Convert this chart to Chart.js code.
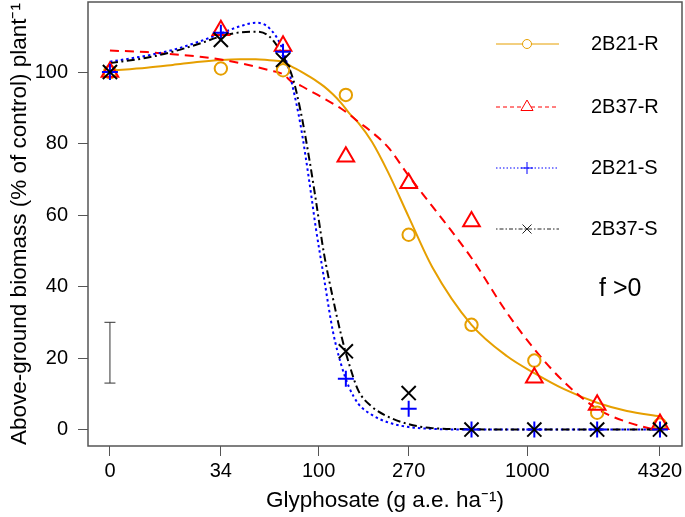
<!DOCTYPE html>
<html>
<head>
<meta charset="utf-8">
<script src="https://cdn.jsdelivr.net/npm/chart.js@4"></script>
<style>
  html, body { margin: 0; padding: 0; background: #fff; }
  #wrap { width: 685px; height: 517px; position: relative; }
</style>
</head>
<body>
<div id="wrap"><canvas id="chart"></canvas></div>
<script>
// Data (control "0" is plotted at dose 10 on the log axis)
const pointDoses = [10, 34, 67.5, 135, 270, 540, 1080, 2160, 4320];
const obsR21 = [100, 101, 100.5, 93.6, 54.5, 29.3, 19.3, 4.7, 1.4];
const obsR37 = [100, 111.7, 107.3, 76.3, 68.9, 58.2, 14.5, 6.9, 1.5];
const obsS21 = [100, 111, 105.7, 14.2, 5.8, 0, 0, 0, 0];
const obsS37 = [100, 109, 103.4, 21.9, 10.2, 0, 0, 0, 0];

// fitted curves
const curveDoses = [10, 15, 20, 27, 34, 42, 50, 58, 67.5, 75, 82, 90, 97, 106, 117, 128, 140, 155, 180, 215, 270, 350, 540, 800, 1080, 1500, 2160, 3000, 4320];
const fitR21 = [100.4, 101.2, 102, 102.9, 103.4, 103.6, 103.6, 103.3, 102.9, 101.4, 100.2, 98.8, 97.6, 96, 93.8, 91.4, 88.5, 85.8, 80.5, 72, 59.5, 45.5, 29.3, 20.5, 15.8, 11.3, 7.5, 5.2, 3.7];
const fitR37 = [106, 105.6, 105, 104.3, 103.5, 102.5, 101.5, 100.5, 99.4, 97.1, 96.2, 94.9, 93.9, 92.6, 91.2, 89.8, 88.2, 86.1, 83.2, 79, 71, 62.5, 48, 32.6, 22.5, 13.3, 5.8, 2.1, -0.4];
const fitS21 = [102.9, 104.6, 106.2, 108.6, 110.8, 112.8, 113.8, 112.3, 106, 96, 85, 69.8, 56.3, 42.5, 27.5, 18.3, 11.8, 7.2, 4.1, 2, 0.7, 0.2, 0, 0, 0, 0, 0, 0, 0];
const fitS37 = [102.5, 104, 105.7, 108, 110, 111.1, 111.3, 110, 104.5, 98.5, 89, 76, 64.1, 49.3, 36.8, 26.6, 18.3, 10.9, 6.4, 3.6, 1.5, 0.4, 0.1, 0, 0, 0, 0, 0, 0];

const seriesNames = ['2B21-R', '2B37-R', '2B21-S', '2B37-S'];
const xTickValues = [10, 34, 100, 270, 1000, 4320];
const xTickLabels = ['0', '34', '100', '270', '1000', '4320'];
const yTickValues = [0, 20, 40, 60, 80, 100];
const errBarDose = 10;
const errBarRange = [13, 30];
const noteText = 'f >0';

const ORANGE = '#E69F00';
const RED = '#FF0000';
const BLUE = '#0000FF';
const BLACK = '#000000';
const FONT = "'Liberation Sans', Arial, sans-serif";

Chart.defaults.color = '#000';
Chart.defaults.font.family = FONT;

const pts = ys => pointDoses.map((d, i) => ({x: d, y: ys[i]}));
const curve = ys => curveDoses.map((d, i) => ({x: d, y: ys[i]}));

function pointSet(label, ys, color, style, r) {
    return {
        label, data: pts(ys), showLine: false,
        pointStyle: style, pointRadius: r, pointHoverRadius: r,
        pointBorderColor: color, pointBackgroundColor: 'rgba(0,0,0,0)',
        pointBorderWidth: 2, borderColor: color
    };
}
function fitSet(label, ys, color, dash) {
    return {
        label, data: curve(ys), borderColor: color, borderWidth: 2,
        borderDash: dash, pointRadius: 0, cubicInterpolationMode: 'monotone',
        fill: false
    };
}

// box around plot, error bar, legend and note
const extras = {
    id: 'extras',
    afterDraw(chart) {
        const {ctx, chartArea: a, scales: {x, y}} = chart;
        ctx.save();
        ctx.strokeStyle = '#555';
        ctx.lineWidth = 1.5;
        ctx.strokeRect(a.left, a.top, a.right - a.left, a.bottom - a.top);

        // error bar
        const ex = x.getPixelForValue(errBarDose);
        const e0 = y.getPixelForValue(errBarRange[0]);
        const e1 = y.getPixelForValue(errBarRange[1]);
        ctx.strokeStyle = '#333';
        ctx.lineWidth = 1;
        ctx.beginPath();
        ctx.moveTo(ex, e0); ctx.lineTo(ex, e1);
        ctx.moveTo(ex - 5.5, e0); ctx.lineTo(ex + 5.5, e0);
        ctx.moveTo(ex - 5.5, e1); ctx.lineTo(ex + 5.5, e1);
        ctx.stroke();

        // legend
        const colors = [ORANGE, RED, BLUE, '#222'];
        const dashes = [[], [4, 3], [1.5, 2], [1.5, 2, 4, 2]];
        const lx0 = 496, lx1 = 559, mx = 527, tx = 591;
        const ly = [44, 107, 168, 229];
        ctx.font = '20px ' + FONT;
        ctx.textBaseline = 'middle';
        ctx.textAlign = 'left';
        seriesNames.forEach((name, i) => {
            const yy = ly[i];
            ctx.strokeStyle = colors[i];
            ctx.lineWidth = 1;
            ctx.setLineDash(dashes[i]);
            ctx.beginPath();
            ctx.moveTo(lx0, yy); ctx.lineTo(lx1, yy);
            ctx.stroke();
            ctx.setLineDash([]);
            ctx.beginPath();
            if (i === 0) {
                ctx.fillStyle = '#fff';
                ctx.arc(mx, yy, 4.5, 0, Math.PI * 2);
                ctx.fill();
            } else if (i === 1) {
                const r = 7;
                ctx.moveTo(mx, yy - r);
                ctx.lineTo(mx + r * 0.866, yy + r / 2);
                ctx.lineTo(mx - r * 0.866, yy + r / 2);
                ctx.closePath();
                ctx.fillStyle = '#fff';
                ctx.fill();
            } else if (i === 2) {
                ctx.moveTo(mx - 6, yy); ctx.lineTo(mx + 6, yy);
                ctx.moveTo(mx, yy - 6); ctx.lineTo(mx, yy + 6);
            } else {
                ctx.moveTo(mx - 4.5, yy - 4.5); ctx.lineTo(mx + 4.5, yy + 4.5);
                ctx.moveTo(mx - 4.5, yy + 4.5); ctx.lineTo(mx + 4.5, yy - 4.5);
            }
            ctx.stroke();
            ctx.fillStyle = '#000';
            ctx.fillText(name, tx, yy);
        });

        ctx.font = '25px ' + FONT;
        ctx.textBaseline = 'alphabetic';
        ctx.fillText(noteText, 599, 296);
        ctx.restore();
    }
};

new Chart(document.getElementById('chart'), {
    type: 'line',
    data: {
        datasets: [
            pointSet(seriesNames[3], obsS37, BLACK, 'crossRot', 10),
            pointSet(seriesNames[2], obsS21, BLUE, 'cross', 8),
            pointSet(seriesNames[1], obsR37, RED, 'triangle', 9.6),
            pointSet(seriesNames[0], obsR21, ORANGE, 'circle', 6.2),
            fitSet(seriesNames[3], fitS37, BLACK, [8, 3.5, 2, 3.5]),
            fitSet(seriesNames[2], fitS21, BLUE, [2.5, 3]),
            fitSet(seriesNames[1], fitR37, RED, [9, 6]),
            fitSet(seriesNames[0], fitR21, ORANGE, [])
        ]
    },
    options: {
        responsive: true,
        maintainAspectRatio: false,
        devicePixelRatio: 1,
        animation: false,
        layout: { autoPadding: false, padding: { top: 2, right: 3, left: 0, bottom: 0 } },
        plugins: { legend: { display: false }, tooltip: { enabled: false } },
        scales: {
            x: {
                type: 'logarithmic',
                position: 'bottom',
                min: 7.85,
                max: 5508,
                afterBuildTicks: s => { s.ticks = xTickValues.map(v => ({value: v})); },
                afterFit: s => { s.height = 71; s.paddingLeft = 0; s.paddingRight = 0; },
                ticks: {
                    autoSkip: false, maxRotation: 0, padding: 3,
                    font: { size: 20 },
                    callback: v => xTickLabels[xTickValues.indexOf(v)]
                },
                grid: { drawOnChartArea: false, drawTicks: true, tickLength: 10, color: '#555', lineWidth: 1 },
                border: { display: false },
                title: {
                    display: true, text: 'Glyphosate (g a.e. ha⁻¹)',
                    font: { size: 22.5 }, padding: { top: 0, bottom: 3 }
                }
            },
            y: {
                type: 'linear',
                min: -4.6,
                max: 119.6,
                afterBuildTicks: s => { s.ticks = yTickValues.map(v => ({value: v})); },
                afterFit: s => { s.width = 88; s.paddingTop = 0; s.paddingBottom = 0; },
                ticks: { padding: 10, font: { size: 20 } },
                grid: { drawOnChartArea: false, drawTicks: true, tickLength: 10, color: '#555', lineWidth: 1 },
                border: { display: false },
                title: {
                    display: true, text: 'Above-ground biomass (% of control) plant⁻¹',
                    font: { size: 22.5 }, padding: { top: 6, bottom: 0 }
                }
            }
        }
    },
    plugins: [extras]
});
</script>
</body>
</html>
